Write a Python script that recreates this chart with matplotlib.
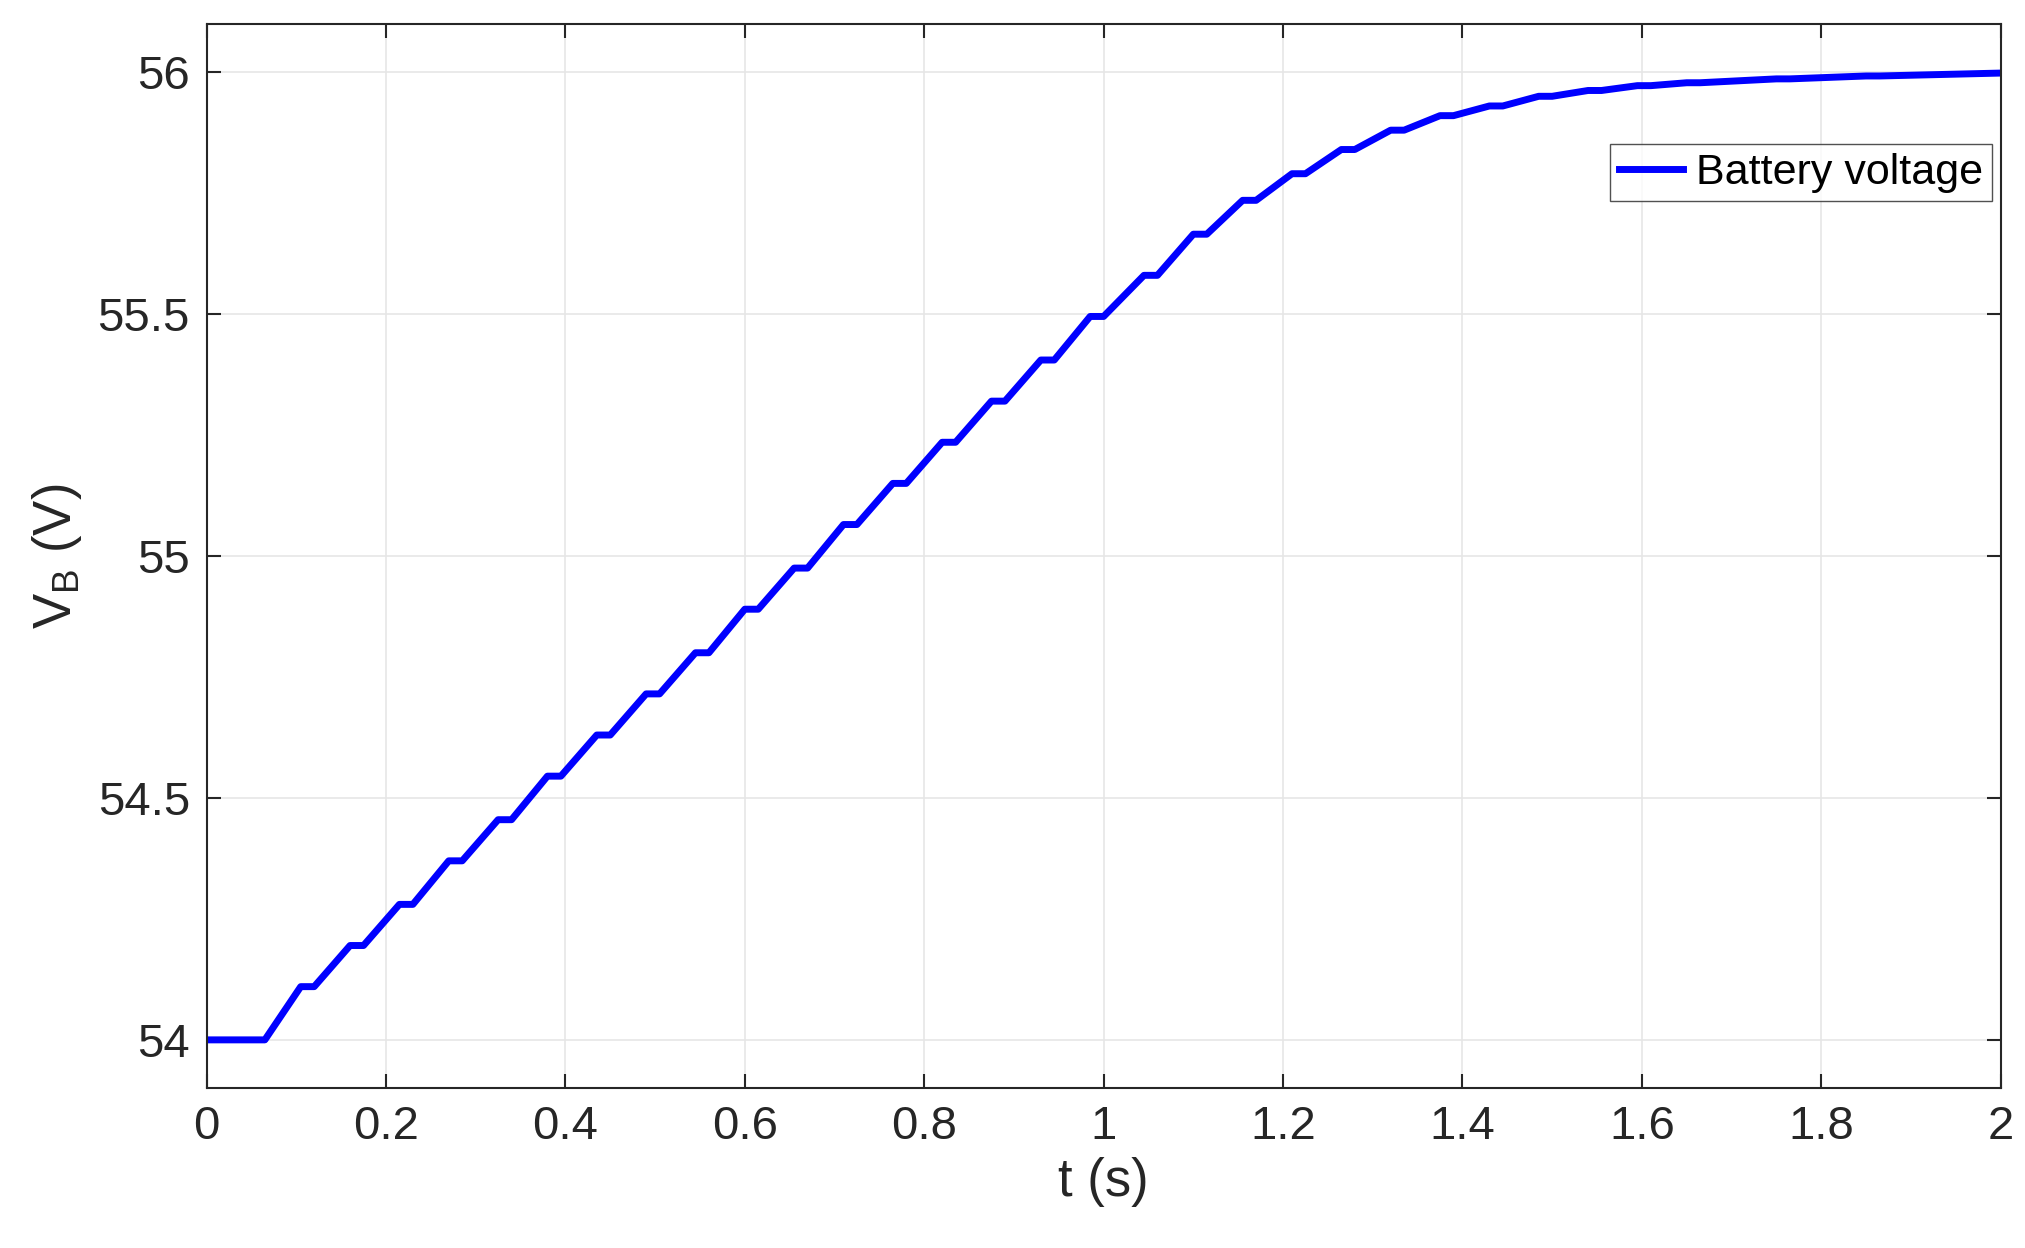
import matplotlib
matplotlib.use("Agg")
import matplotlib.pyplot as plt

# step times (start of each plateau) and plateau levels
step_t = [0.0, 0.105, 0.16, 0.215, 0.27, 0.325, 0.38, 0.435, 0.49, 0.545, 0.60,
          0.655, 0.71, 0.765, 0.82, 0.875, 0.93, 0.985, 1.045, 1.10, 1.155,
          1.21, 1.265, 1.32, 1.375, 1.43, 1.485, 1.54, 1.595, 1.65, 1.75, 1.85, 2.0]
step_v = [54.0, 54.11, 54.195, 54.28, 54.37, 54.455, 54.545, 54.63, 54.715, 54.80,
          54.89, 54.975, 55.065, 55.15, 55.235, 55.32, 55.405, 55.495, 55.58,
          55.665, 55.735, 55.79, 55.84, 55.88, 55.91, 55.93, 55.95, 55.962,
          55.972, 55.978, 55.986, 55.992, 55.998]
plateau = [0.065] + [0.015] * (len(step_t) - 1)

t, v = [], []
for ti, vi, pl in zip(step_t, step_v, plateau):
    t += [ti, ti + pl]
    v += [vi, vi]

plt.rcParams['font.family'] = ['Liberation Sans', 'DejaVu Sans']
fig = plt.figure(figsize=(20.25, 12.48), dpi=100)
ax = fig.add_axes([0.102, 0.128, 0.886, 0.853])
ax.plot(t, v, color="#0000ff", lw=5, label="Battery voltage", solid_joinstyle="round")
ax.set_xlim(0, 2)
ax.set_ylim(53.9, 56.1)
ax.set_xticks([0, 0.2, 0.4, 0.6, 0.8, 1, 1.2, 1.4, 1.6, 1.8, 2])
ax.set_xticklabels(["0", "0.2", "0.4", "0.6", "0.8", "1", "1.2", "1.4", "1.6", "1.8", "2"])
ax.set_yticks([54, 54.5, 55, 55.5, 56])
ax.set_yticklabels(["54", "54.5", "55", "55.5", "56"])
ax.grid(True, color="#e6e6e6", lw=1.2)
ax.tick_params(labelsize=34, color="#262626", labelcolor="#262626", direction="in",
               length=10, top=True, right=True, width=1.5, pad=12)
for s in ax.spines.values():
    s.set_color("#262626")
    s.set_linewidth(1.5)
ax.set_xlabel("t (s)", fontsize=38, color="#262626", labelpad=6)
ax.set_ylabel("V$_\\mathregular{B}$ (V)", fontsize=38, color="#262626", labelpad=10)
leg = ax.legend(loc="upper right", bbox_to_anchor=(1.0, 0.895), fontsize=31,
                fancybox=False, handlelength=1.5, handletextpad=0.3,
                borderpad=0.2, borderaxespad=0.2)
leg.get_frame().set_edgecolor("#262626")
fig.savefig("out.png")
